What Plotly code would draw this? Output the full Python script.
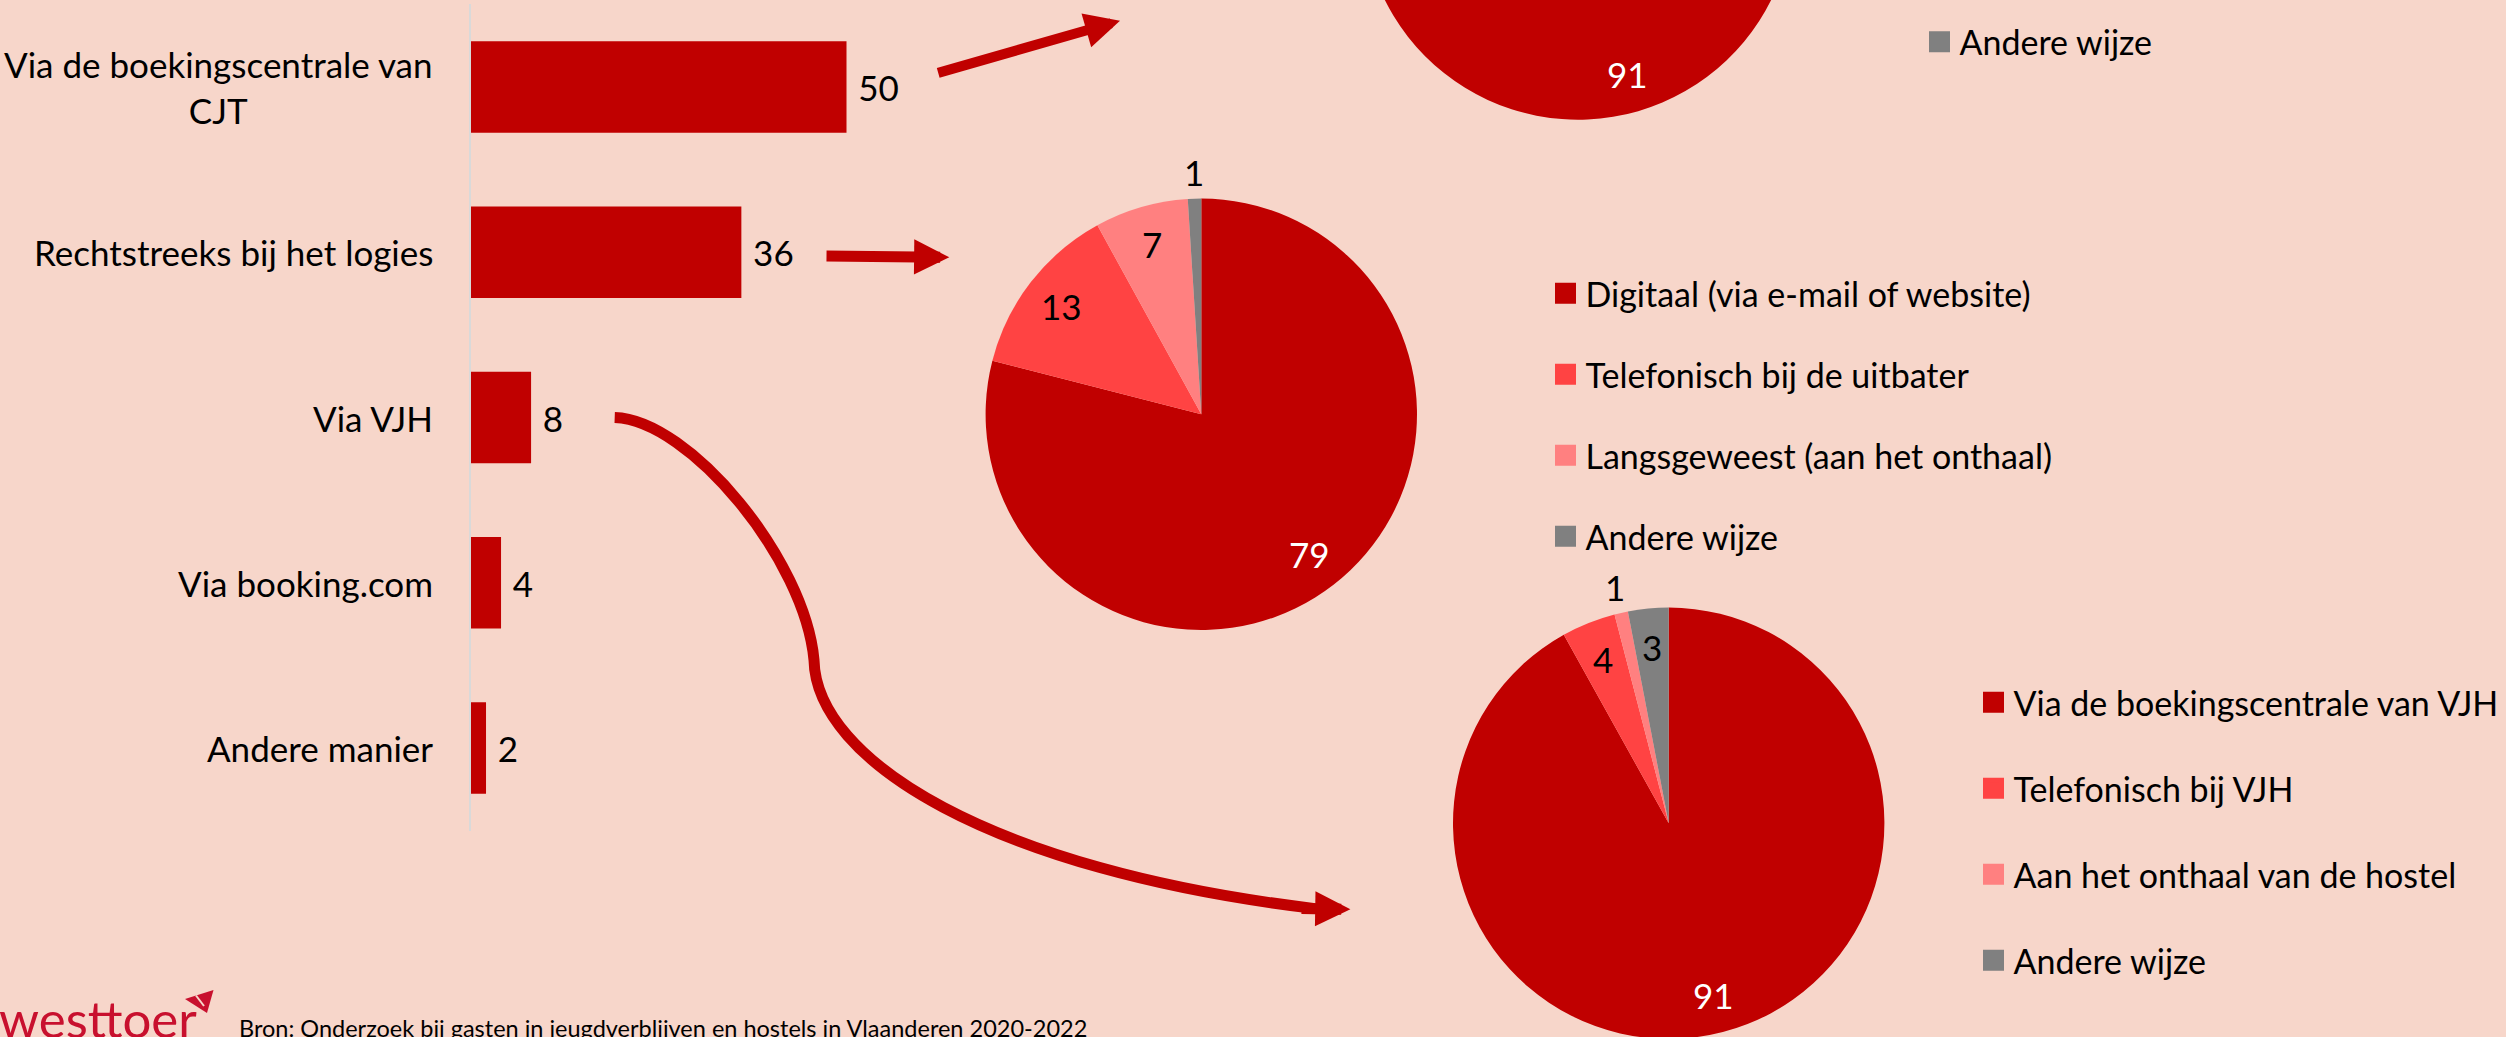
import math
import plotly.graph_objects as go

# ---------------- data ----------------
bar_categories = ["Via de boekingscentrale van CJT", "Rechtstreeks bij het logies",
                  "Via VJH", "Via booking.com", "Andere manier"]
bar_labels = ["Via de boekingscentrale van<br>CJT", "Rechtstreeks bij het logies",
              "Via VJH", "Via booking.com", "Andere manier"]
bar_values = [50, 36, 8, 4, 2]

cjt_labels = ["Via de boekingscentrale van CJT", "Telefonisch bij CJT",
              "Aan het onthaal", "Andere wijze"]
cjt_values = [91, 4, 2, 3]

logies_labels = ["Digitaal (via e-mail of website)", "Telefonisch bij de uitbater",
                 "Langsgeweest (aan het onthaal)", "Andere wijze"]
logies_values = [79, 13, 7, 1]

vjh_labels = ["Via de boekingscentrale van VJH", "Telefonisch bij VJH",
              "Aan het onthaal van de hostel", "Andere wijze"]
vjh_values = [91, 4, 1, 3]

source_text = "Bron: Onderzoek bij gasten in jeugdverblijven en hostels in Vlaanderen 2020-2022"

# ---------------- styles / layout geometry ----------------
BG = "#F7D6CA"
DARK = "#C00000"
LOGO = "#C8102E"
slice_colors = ["#C00000", "#FF4343", "#FF8080", "#808080"]
FONT = "Lato, Calibri, Carlito, sans-serif"
FS = 35          # labels
FS_LEG = 34      # legend text (keeps the legend inside the page width)

W = 2506
S = 330                      # part of the figure placed above the visible window
H = 1037 + S + 40


def P(x, y):
    """screen pixel -> paper coords"""
    return x / W, 1 - (y + S) / H


fig = go.Figure()

# ---------------- bar chart ----------------
fig.add_trace(go.Bar(
    y=bar_categories, x=bar_values, orientation="h",
    marker=dict(color=DARK, line=dict(width=0)),
    text=bar_values, texttemplate="\u2009\u2009%{x}", textposition="outside",
    textfont=dict(size=FS, color="black", family=FONT),
    cliponaxis=False, showlegend=False, hoverinfo="x+y",
))

x0_px, px_per_unit, xmax = 471, 7.51, 60
fig.update_xaxes(domain=[P(x0_px, 0)[0], P(x0_px + px_per_unit * xmax, 0)[0]],
                 range=[0, xmax], visible=False)
fig.update_yaxes(domain=[P(0, 830.6)[1], P(0, 4.4)[1]],
                 type="category", categoryorder="array", categoryarray=bar_categories,
                 autorange="reversed", showline=True, linecolor="#D9D9D9", linewidth=1.5,
                 showticklabels=False, ticks="", showgrid=False, zeroline=False)

annotations = []
for cat, lab in zip(bar_categories, bar_labels):
    annotations.append(dict(x=P(435, 0)[0], xref="paper", y=cat, yref="y",
                            text=lab, showarrow=False, xanchor="right", yanchor="middle",
                            align="center", font=dict(size=FS, color="black", family=FONT)))

# ---------------- pies ----------------
R = 215.7
# (labels, values, centre px, legend name, legend symbol-centre x, first item centre y, spacing)
pies = [
    (cjt_labels, cjt_values, (1578, -96), "legend", 1939.5, 41.7 - 3 * 81, 81),
    (logies_labels, logies_values, (1201.3, 414.3), "legend2", 1565.5, 293.3, 81),
    (vjh_labels, vjh_values, (1668.7, 823.3), "legend3", 1993.5, 702.3, 86),
]

item_h = FS_LEG * 1.3 + 3
legend_layout = {}

for labels, values, (cx, cy), leg, sx, fy, step in pies:
    xa, yb = P(cx - R, cy + R)
    xb, ya = P(cx + R, cy - R)
    fig.add_trace(go.Pie(
        labels=labels, values=values, sort=False, direction="clockwise", rotation=0,
        marker=dict(colors=slice_colors, line=dict(width=0)),
        textinfo="none", showlegend=False, domain=dict(x=[xa, xb], y=[yb, ya]),
        hoverinfo="label+value",
    ))
    # slice value labels at the mid-angle of every slice (only where they fall in view)
    total = sum(values)
    cum = 0
    for i, v in enumerate(values):
        ang = (cum + v / 2) / total * 2 * math.pi
        cum += v
        inside = v / total >= 0.02
        rr = R * (0.82 if inside else 1.125)
        lx, ly = cx + rr * math.sin(ang), cy - rr * math.cos(ang)
        if ly - FS * 0.6 < 0:
            continue
        ax_, ay_ = P(lx, ly)
        annotations.append(dict(x=ax_, y=ay_, xref="paper", yref="paper", text=str(v),
                                showarrow=False, xanchor="center", yanchor="middle",
                                font=dict(size=FS, family=FONT,
                                          color="white" if i == 0 else "black")))
    # legend entries (only those that fall inside the visible window)
    first_visible = None
    for k, (lab, col) in enumerate(zip(labels, slice_colors)):
        yc = fy + k * step
        if yc - FS * 0.6 < 0:
            continue
        if first_visible is None:
            first_visible = yc
        fig.add_trace(go.Scatter(
            x=[None], y=[None], mode="markers", name=lab, legend=leg,
            legendgroup=leg + lab, showlegend=True,
            marker=dict(symbol="square", size=16, color=col, line=dict(width=5, color=col)),
        ))
    lx, ly = P(sx - 20, first_visible - (item_h / 2 + 5))
    legend_layout[leg] = dict(x=lx, y=ly, xanchor="left", yanchor="top",
                              bgcolor="rgba(0,0,0,0)", borderwidth=0,
                              traceorder="grouped", tracegroupgap=step - item_h,
                              font=dict(size=FS_LEG, color="black", family=FONT))

# ---------------- arrows ----------------
def arrow(tail, tip, width=11, size=0.64):
    tx, ty = P(*tip)
    return dict(x=tx, y=ty, xref="paper", yref="paper",
                ax=tail[0] - tip[0], ay=tail[1] - tip[1],
                axref="pixel", ayref="pixel", text="", showarrow=True,
                arrowhead=2, arrowwidth=width, arrowsize=size, arrowcolor=DARK,
                standoff=0, startstandoff=0)

annotations.append(arrow((936.7, 73.3), (1120, 20.7), width=10, size=0.7))
annotations.append(arrow((825, 256), (949.3, 257.3)))
annotations.append(arrow((1300, 908.5), (1350.4, 909.3)))

curve = [(614.7, 417.5), (690, 420), (805, 560), (814, 660),
         (816, 760), (990, 870), (1315, 908.6)]
cp = [P(x, y) for x, y in curve]
path = "M {:.5f},{:.5f} C {:.5f},{:.5f} {:.5f},{:.5f} {:.5f},{:.5f} C {:.5f},{:.5f} {:.5f},{:.5f} {:.5f},{:.5f}".format(
    *[c for pt in cp for c in pt])
shapes = [dict(type="path", path=path, xref="paper", yref="paper",
               line=dict(color=DARK, width=11), fillcolor="rgba(0,0,0,0)")]

# small kite of the logo
kite = [P(x, y) for x, y in [(185, 999), (213.5, 990), (207, 1013)]]
shapes.append(dict(type="path", xref="paper", yref="paper",
                   path="M {:.5f},{:.5f} L {:.5f},{:.5f} L {:.5f},{:.5f} Z".format(
                       *[c for pt in kite for c in pt]),
                   fillcolor=LOGO, line=dict(width=0)))
kl = [P(x, y) for x, y in [(196, 995.5), (204, 1006)]]
shapes.append(dict(type="line", xref="paper", yref="paper",
                   x0=kl[0][0], y0=kl[0][1], x1=kl[1][0], y1=kl[1][1],
                   line=dict(color=BG, width=2)))

# ---------------- footer ----------------
lx, ly = P(-3, 1039 + 0.213 * 51 + 1)
annotations.append(dict(x=lx, y=ly, xref="paper", yref="paper", text="westtoer",
                        showarrow=False, xanchor="left", yanchor="bottom",
                        font=dict(size=51, color=LOGO, family=FONT)))
lx, ly = P(237, 1038 + 0.213 * 23.5 + 1)
annotations.append(dict(x=lx, y=ly, xref="paper", yref="paper", text=source_text,
                        showarrow=False, xanchor="left", yanchor="bottom",
                        font=dict(size=23.5, color="black", family=FONT)))

fig.update_layout(
    width=W, height=H, margin=dict(l=0, r=0, t=0, b=0, pad=0),
    paper_bgcolor=BG, plot_bgcolor=BG, bargap=0.446,
    font=dict(family=FONT, size=FS, color="black"),
    annotations=annotations, shapes=shapes, **legend_layout,
)

post = ("document.documentElement.style.overflow='hidden';"
        "document.body.style.margin='0';document.body.style.overflow='hidden';"
        "var gd=document.getElementById('{plot_id}');"
        "gd.style.position='absolute';gd.style.left='0px';gd.style.top='-" + str(S) + "px';"
        "window.scrollTo(0,0);")
fig.write_html("out.html", post_script=post)
